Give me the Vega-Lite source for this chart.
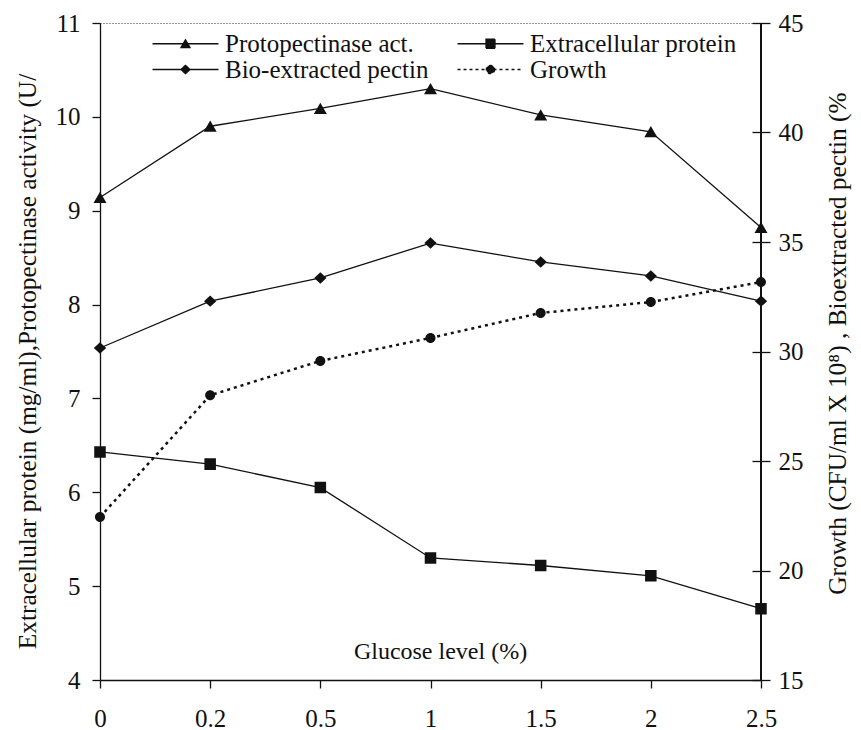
{
  "$schema": "https://vega.github.io/schema/vega-lite/v6.json",
  "width": 661,
  "height": 657,
  "autosize": {"type": "none"},
  "padding": {"left": 100, "top": 23, "right": 100, "bottom": 50},
  "background": "white",
  "config": {
    "font": "Liberation Serif",
    "view": {"stroke": "#333", "strokeDash": [1, 2], "strokeWidth": 1},
    "axis": {
      "grid": false,
      "domainColor": "#111",
      "tickColor": "#111",
      "labelColor": "#111",
      "titleColor": "#111",
      "labelFont": "Liberation Serif",
      "titleFont": "Liberation Serif",
      "labelFontSize": 25,
      "titleFontSize": 25.3,
      "titleFontWeight": "normal",
      "domainWidth": 1.3,
      "tickWidth": 1.3
    }
  },
  "data": {
    "values": [
      {"g": "0", "series": "Protopectinase act.", "side": "L", "value": 9.14},
      {"g": "0.2", "series": "Protopectinase act.", "side": "L", "value": 9.9},
      {"g": "0.5", "series": "Protopectinase act.", "side": "L", "value": 10.09},
      {"g": "1", "series": "Protopectinase act.", "side": "L", "value": 10.3},
      {"g": "1.5", "series": "Protopectinase act.", "side": "L", "value": 10.02},
      {"g": "2", "series": "Protopectinase act.", "side": "L", "value": 9.84},
      {"g": "2.5", "series": "Protopectinase act.", "side": "L", "value": 8.82},
      {"g": "0", "series": "Extracellular protein", "side": "L", "value": 6.43},
      {"g": "0.2", "series": "Extracellular protein", "side": "L", "value": 6.3},
      {"g": "0.5", "series": "Extracellular protein", "side": "L", "value": 6.05},
      {"g": "1", "series": "Extracellular protein", "side": "L", "value": 5.3},
      {"g": "1.5", "series": "Extracellular protein", "side": "L", "value": 5.22},
      {"g": "2", "series": "Extracellular protein", "side": "L", "value": 5.11},
      {"g": "2.5", "series": "Extracellular protein", "side": "L", "value": 4.76},
      {"g": "0", "series": "Bio-extracted pectin", "side": "R", "value": 30.16},
      {"g": "0.2", "series": "Bio-extracted pectin", "side": "R", "value": 32.3},
      {"g": "0.5", "series": "Bio-extracted pectin", "side": "R", "value": 33.36},
      {"g": "1", "series": "Bio-extracted pectin", "side": "R", "value": 34.95},
      {"g": "1.5", "series": "Bio-extracted pectin", "side": "R", "value": 34.09},
      {"g": "2", "series": "Bio-extracted pectin", "side": "R", "value": 33.45},
      {"g": "2.5", "series": "Bio-extracted pectin", "side": "R", "value": 32.3},
      {"g": "0", "series": "Growth", "side": "R", "value": 22.44},
      {"g": "0.2", "series": "Growth", "side": "R", "value": 28.0},
      {"g": "0.5", "series": "Growth", "side": "R", "value": 29.57},
      {"g": "1", "series": "Growth", "side": "R", "value": 30.62},
      {"g": "1.5", "series": "Growth", "side": "R", "value": 31.76},
      {"g": "2", "series": "Growth", "side": "R", "value": 32.26},
      {"g": "2.5", "series": "Growth", "side": "R", "value": 33.17}
    ]
  },
  "layer": [
    {
      "transform": [{"filter": "datum.side === 'L'"}],
      "encoding": {
        "x": {
          "field": "g", "type": "ordinal",
          "sort": ["0", "0.2", "0.5", "1", "1.5", "2", "2.5"],
          "scale": {"type": "point", "padding": 0},
          "axis": {"title": "Glucose level (%)", "labelAngle": 0, "tickSize": 8, "labelPadding": 18, "titleY": -22, "titleX": 340, "titleAlign": "center", "titleBaseline": "alphabetic", "titleFontSize": 24}
        },
        "y": {
          "field": "value", "type": "quantitative",
          "scale": {"domain": [4, 11], "nice": false, "zero": false},
          "axis": {"orient": "left", "values": [4, 5, 6, 7, 8, 9, 10, 11], "tickSize": 8, "labelPadding": 12,
            "title": "Extracellular protein (mg/ml),Protopectinase activity (U/",
            "titleAngle": -90, "titleX": -73, "titleY": 338, "titleAlign": "center", "titleBaseline": "middle"}
        }
      },
      "layer": [
        {"mark": {"type": "line", "color": "#111", "strokeWidth": 1.3}, "encoding": {"detail": {"field": "series"}}},
        {
          "mark": {"type": "point", "filled": true, "opacity": 1, "fill": "#111", "stroke": "#111"},
          "encoding": {
            "shape": {
              "field": "series", "type": "nominal",
              "scale": {"domain": ["Protopectinase act.", "Bio-extracted pectin", "Extracellular protein", "Growth"],
                "range": ["M-3.3,0H3.3M0,-0.4L0.45,0.38L-0.45,0.38Z", "M-3.3,0H3.3M-0.45,0L0,-0.42L0.45,0L0,0.42Z", "M-3.3,0H3.3M-0.45,-0.45H0.45V0.45H-0.45Z", "M-3.3,0H3.3M0.42,0A0.42,0.42 0 1,1 -0.42,0A0.42,0.42 0 1,1 0.42,0Z"]},
              "legend": {
                "orient": "none", "legendX": 52, "legendY": 8, "columns": 2, "title": null,
                "padding": 0, "rowPadding": 0, "columnPadding": 25,
                "labelFont": "Liberation Serif", "labelFontSize": 25, "labelColor": "#111",
                "labelOffset": 27, "symbolOffset": 21, "symbolSize": 400, "labelLimit": 400,
                "symbolStrokeWidth": 1.3, "symbolOpacity": 1
              }
            },
            "strokeDash": {
              "field": "series", "type": "nominal",
              "scale": {"domain": ["Protopectinase act.", "Bio-extracted pectin", "Extracellular protein", "Growth"], "range": [[1, 0], [1, 0], [1, 0], [3, 3]]}
            },
            "strokeWidth": {
              "field": "series", "type": "nominal",
              "scale": {"domain": ["Growth", "Extracellular protein", "Bio-extracted pectin", "Protopectinase act."], "range": [0, 0, 0, 0]},
              "legend": null
            },
            "size": {
              "field": "series", "type": "nominal",
              "scale": {"domain": ["Growth", "Extracellular protein", "Bio-extracted pectin", "Protopectinase act."], "range": [567, 835, 493, 711]},
              "legend": null
            }
          }
        }
      ]
    },
    {
      "transform": [{"filter": "datum.side === 'R'"}],
      "encoding": {
        "x": {
          "field": "g", "type": "ordinal",
          "sort": ["0", "0.2", "0.5", "1", "1.5", "2", "2.5"],
          "scale": {"type": "point", "padding": 0},
          "axis": {"title": "Glucose level (%)", "labelAngle": 0, "tickSize": 8, "labelPadding": 18, "titleY": -22, "titleX": 340, "titleAlign": "center", "titleBaseline": "alphabetic", "titleFontSize": 24}
        },
        "y": {
          "field": "value", "type": "quantitative",
          "scale": {"domain": [15, 45], "nice": false, "zero": false},
          "axis": {"orient": "right", "values": [15, 20, 25, 30, 35, 40, 45], "offset": -9, "tickSize": 18, "labelPadding": 8, "domain": false,
            "title": "Growth (CFU/ml X 10⁸) , Bioextracted pectin (%",
            "titleAngle": -90, "titleX": 85, "titleY": 320, "titleAlign": "center", "titleBaseline": "middle", "titleFontSize": 25.4}
        }
      },
      "layer": [
        {"mark": {"type": "rule", "color": "#111", "strokeWidth": 1.3}, "encoding": {"x": {"datum": "2.5"}, "y": null}},
        {"transform": [{"filter": "datum.series === 'Bio-extracted pectin'"}], "mark": {"type": "line", "color": "#111", "strokeWidth": 1.3}, "encoding": {}},
        {"transform": [{"filter": "datum.series === 'Growth'"}], "mark": {"type": "line", "color": "#111", "strokeWidth": 2.5, "strokeDash": [3, 4]}, "encoding": {}},
        {
          "mark": {"type": "point", "filled": true, "opacity": 1, "fill": "#111", "stroke": "#111"},
          "encoding": {
            "shape": {
              "field": "series", "type": "nominal",
              "scale": {"domain": ["Protopectinase act.", "Bio-extracted pectin", "Extracellular protein", "Growth"],
                "range": ["M-3.3,0H3.3M0,-0.4L0.45,0.38L-0.45,0.38Z", "M-3.3,0H3.3M-0.45,0L0,-0.42L0.45,0L0,0.42Z", "M-3.3,0H3.3M-0.45,-0.45H0.45V0.45H-0.45Z", "M-3.3,0H3.3M0.42,0A0.42,0.42 0 1,1 -0.42,0A0.42,0.42 0 1,1 0.42,0Z"]}
            },
            "strokeDash": {
              "field": "series", "type": "nominal",
              "scale": {"domain": ["Protopectinase act.", "Bio-extracted pectin", "Extracellular protein", "Growth"], "range": [[1, 0], [1, 0], [1, 0], [3, 3]]}
            },
            "strokeWidth": {
              "field": "series", "type": "nominal",
              "scale": {"domain": ["Growth", "Extracellular protein", "Bio-extracted pectin", "Protopectinase act."], "range": [0, 0, 0, 0]},
              "legend": null
            },
            "size": {
              "field": "series", "type": "nominal",
              "scale": {"domain": ["Growth", "Extracellular protein", "Bio-extracted pectin", "Protopectinase act."], "range": [567, 835, 493, 711]},
              "legend": null
            }
          }
        }
      ]
    }
  ],
  "resolve": {"scale": {"y": "independent"}}
}
